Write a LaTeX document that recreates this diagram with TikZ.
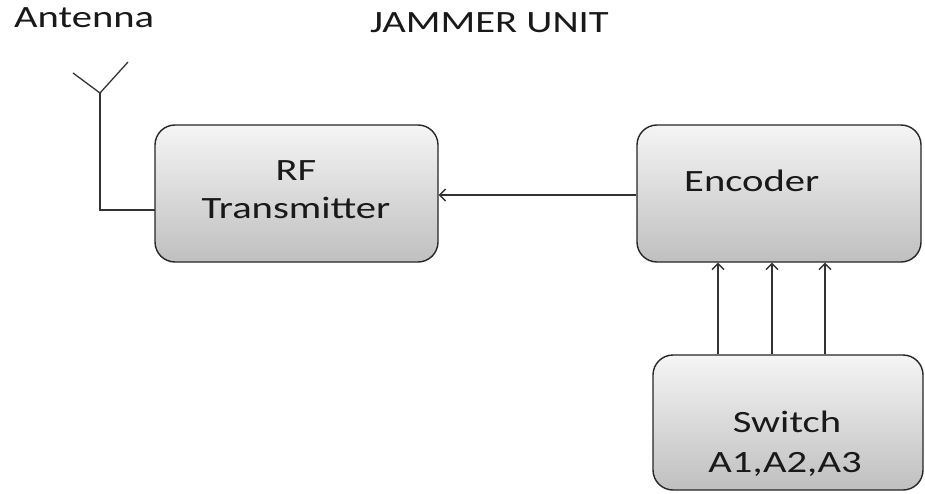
\documentclass[tikz,border=0pt]{standalone}
\usepackage{fontspec}
\setmainfont[FakeStretch=1.31]{Carlito}
\usetikzlibrary{arrows.meta,calc}
\begin{document}
\begin{tikzpicture}[x=1pt,y=-1pt,
  blk/.style={draw=black!85, line width=1.4pt, rounded corners=20pt,
    top color=black!4, bottom color=black!25, inner sep=0pt},
  txt/.style={font=\fontsize{31}{38}\selectfont, text=black!90, inner sep=0pt, align=center},
  wire/.style={draw=black!80, line width=1.3pt},
  arr/.style={wire, -{Straight Barb[length=6pt,width=12pt,line width=1.3pt]}}]
\useasboundingbox (0,0) rectangle (925,494);
\fill[white] (0,0) rectangle (925,494);
% boxes
\node[blk, minimum width=283pt, minimum height=137pt] (rf) at (296.5,193.5) {};
\node[blk, minimum width=284pt, minimum height=137pt] (enc) at (779,193.5) {};
\node[blk, minimum width=270pt, minimum height=135pt] (sw) at (788,422.5) {};
% texts
\node[txt] (rft) at (296,190) {RF\\Transmitter};
\node[txt, anchor=base west] (enct) at (684,192) {Encoder};
\node[txt, anchor=base] (swt) at (787,432) {Switch};
\node[txt, anchor=base] (swt2) at (785,472) {A1,A2,A3};
\node[txt, anchor=base west] (ant) at (14,28) {Antenna};
\node[txt, anchor=base west] (title) at (370,33) {JAMMER UNIT};
% antenna
\coordinate (apex) at (100,93);
\coordinate (armL) at (73,73);
\coordinate (armR) at (128,62);
\coordinate (feed) at (155,210);
\draw[wire] (armL) -- (apex) -- (armR);
\draw[wire] (apex) |- (feed);
% encoder -> rf
\coordinate (h) at (0,195);
\draw[arr] (enc.west |- h) -- (rf.east |- h);
% switch -> encoder
\coordinate (c1) at (718,0);
\coordinate (c2) at (772,0);
\coordinate (c3) at (825,0);
\foreach \c in {c1,c2,c3}
  \draw[arr] (sw.north -| \c) -- (enc.south -| \c);
\end{tikzpicture}
\end{document}
